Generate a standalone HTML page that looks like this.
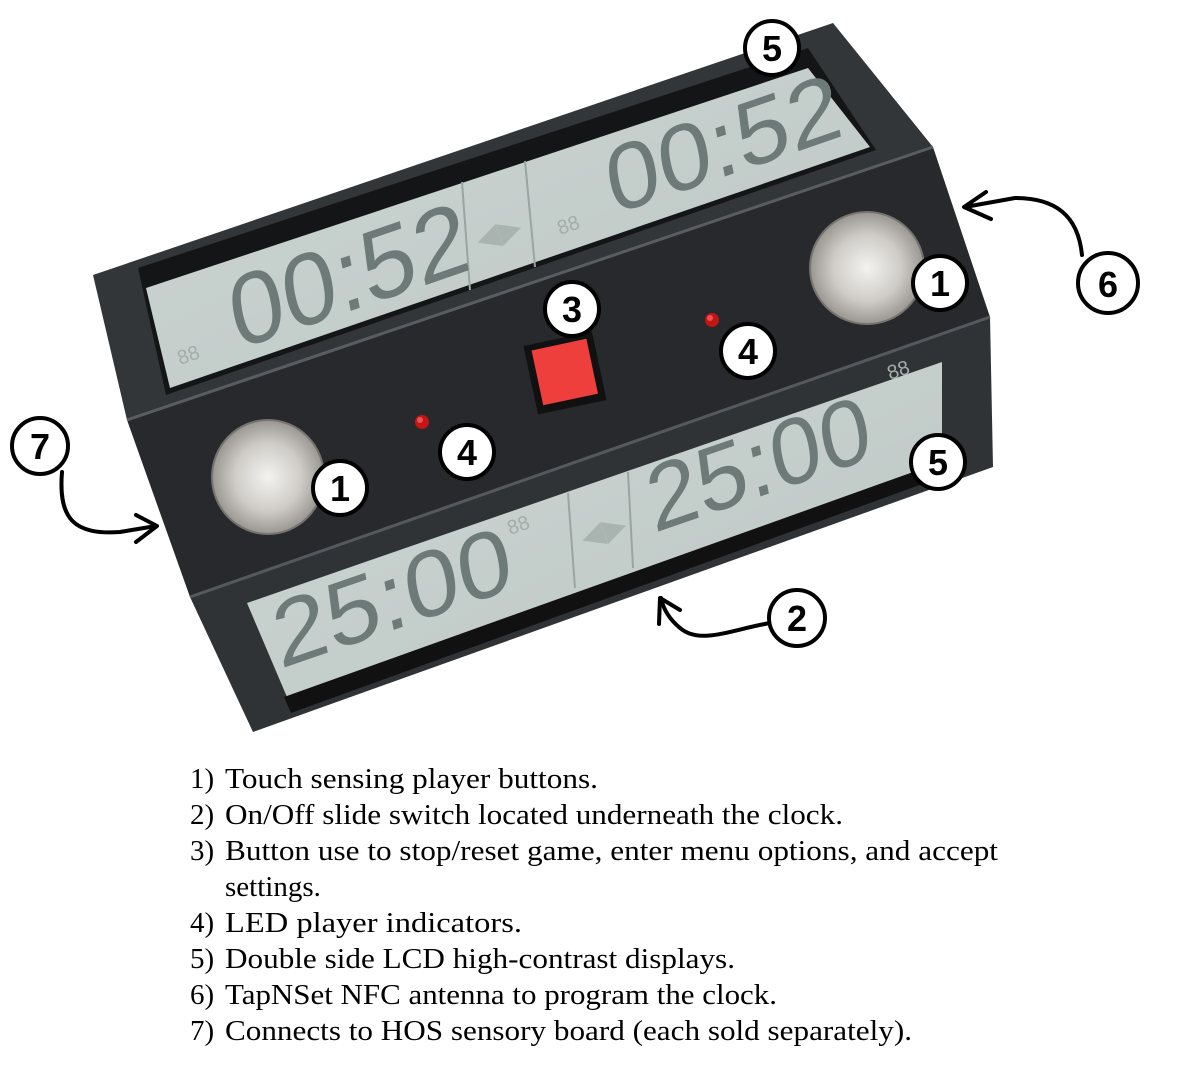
<!DOCTYPE html>
<html><head><meta charset="utf-8"><style>
html,body{margin:0;padding:0;background:#fff;}
svg{display:block;}
</style></head><body>
<svg width="1177" height="1078" viewBox="0 0 1177 1078" xmlns="http://www.w3.org/2000/svg">
<defs>
<radialGradient id="knob" cx="50%" cy="50%" r="55%">
<stop offset="0" stop-color="#f4f3f0"/><stop offset="0.55" stop-color="#cfccc7"/><stop offset="1" stop-color="#8f8b86"/>
</radialGradient>
<linearGradient id="lcd" x1="0" y1="0" x2="1" y2="1">
<stop offset="0" stop-color="#cdd6d3"/><stop offset="1" stop-color="#bcc6c3"/>
</linearGradient>
</defs>
<!-- body faces -->
<polygon points="93,275 833,23 933,147 127,420" fill="#333639"/>
<polygon points="127,420 933,147 990,317 190,597" fill="#27292c"/>
<polygon points="190,597 990,317 993,467 253,732" fill="#303336"/>
<polyline points="127,420 933,147" stroke="#595c60" stroke-width="3" fill="none"/>
<polyline points="190,597 990,317" stroke="#55585c" stroke-width="3" fill="none"/>
<!-- upper LCD -->
<polygon points="138,268 808,48 876,150 166,395" fill="#141516"/>
<polygon points="146,288 808,68 870,147 170,388" fill="url(#lcd)"/>
<line x1="462" y1="182" x2="470" y2="290" stroke="#9aa4a1" stroke-width="2"/>
<line x1="525" y1="161" x2="535" y2="267" stroke="#9aa4a1" stroke-width="2"/>
<!-- lower LCD -->
<polygon points="247,603 942,362 942,463 287,697" fill="url(#lcd)"/>
<polygon points="284,697 944,461 950,474 291,713" fill="#111"/>
<line x1="568" y1="493" x2="575" y2="588" stroke="#9aa4a1" stroke-width="2"/>
<line x1="628" y1="472" x2="633" y2="568" stroke="#9aa4a1" stroke-width="2"/>
<g font-family="Liberation Sans, sans-serif" fill="#6e7a78">
<text x="0" y="0" font-size="100" textLength="250" lengthAdjust="spacingAndGlyphs" transform="translate(237 350) rotate(-19) skewX(-8)">00:52</text>
<text x="0" y="0" font-size="92" textLength="246" lengthAdjust="spacingAndGlyphs" transform="translate(613 215) rotate(-19) skewX(-8)">00:52</text>
<text x="0" y="0" font-size="92" textLength="250" lengthAdjust="spacingAndGlyphs" transform="translate(280 669) rotate(-19) skewX(-8)">25:00</text>
<text x="0" y="0" font-size="92" textLength="234" lengthAdjust="spacingAndGlyphs" transform="translate(654 533) rotate(-19) skewX(-8)">25:00</text>
</g>
<g font-family="Liberation Sans, sans-serif" font-size="20" fill="#a3adaa">
<text x="0" y="0" transform="translate(180 365) rotate(-19)">88</text>
<text x="0" y="0" transform="translate(560 235) rotate(-19)">88</text>
<text x="0" y="0" transform="translate(510 535) rotate(-19)">88</text>
<text x="0" y="0" transform="translate(890 380) rotate(-19)">88</text>
</g>
<g font-family="DejaVu Sans, sans-serif" font-size="30" fill="#a9b3b0">
<text x="0" y="0" transform="translate(480 250) rotate(-19)">◀▶</text>
<text x="0" y="0" transform="translate(585 548) rotate(-19)">◀▶</text>
</g>
<!-- knobs -->
<ellipse cx="268" cy="477" rx="57" ry="58" fill="#77736e"/>
<ellipse cx="268" cy="477" rx="55" ry="56" fill="url(#knob)"/>
<ellipse cx="867" cy="268" rx="58" ry="57" fill="#77736e"/>
<ellipse cx="867" cy="268" rx="56" ry="55" fill="url(#knob)"/>
<!-- red button -->
<g transform="rotate(-12 565 373)">
<rect x="530" y="338" width="70" height="70" fill="#111"/>
<rect x="537" y="344" width="56" height="56" fill="#ef3f3c"/>
</g>
<!-- LEDs -->
<circle cx="422" cy="422" r="7" fill="#c21515"/><circle cx="420" cy="420" r="3" fill="#f05050"/>
<circle cx="712" cy="320" r="7" fill="#c21515"/><circle cx="710" cy="318" r="3" fill="#f05050"/>
<!-- arrows -->
<g fill="none" stroke="#000" stroke-width="4" stroke-linecap="round" stroke-linejoin="round">
<path d="M1082,255 C1078,215 1055,198 1015,198 L965,207"/>
<path d="M986,192 L964,207 L991,219"/>
<path d="M62,472 C58,520 75,535 120,532 L156,526"/>
<path d="M136,515 L157,526 L136,542"/>
<path d="M770,623 C730,630 700,645 680,628 C668,618 663,608 661,598"/>
<path d="M659,624 L660,598 L680,610"/>
</g>
<!-- label circles -->
<g font-family="Liberation Sans, sans-serif" font-weight="bold" font-size="36" text-anchor="middle">
<g stroke="#000" stroke-width="4" fill="#fff">
<circle cx="772" cy="48" r="27"/>
<circle cx="1108" cy="283" r="30"/>
<circle cx="940" cy="283" r="27"/>
<circle cx="572" cy="309" r="27"/>
<circle cx="748" cy="351" r="27"/>
<circle cx="40" cy="446" r="28"/>
<circle cx="467" cy="452" r="27"/>
<circle cx="340" cy="488" r="27"/>
<circle cx="938" cy="462" r="27"/>
<circle cx="797" cy="618" r="28"/>
</g>
<text x="772" y="61">5</text>
<text x="1108" y="297">6</text>
<text x="940" y="296">1</text>
<text x="572" y="322">3</text>
<text x="748" y="364">4</text>
<text x="40" y="459">7</text>
<text x="467" y="465">4</text>
<text x="340" y="501">1</text>
<text x="938" y="475">5</text>
<text x="797" y="631">2</text>
</g>
<!-- legend -->
<g font-family="Liberation Serif, serif" font-size="29" fill="#000">
<text x="190" y="788">1)</text><text x="225" y="788" textLength="373" lengthAdjust="spacingAndGlyphs">Touch sensing player buttons.</text>
<text x="190" y="824">2)</text><text x="225" y="824" textLength="618" lengthAdjust="spacingAndGlyphs">On/Off slide switch located underneath the clock.</text>
<text x="190" y="860">3)</text><text x="225" y="860" textLength="773" lengthAdjust="spacingAndGlyphs">Button use to stop/reset game, enter menu options, and accept</text>
<text x="225" y="896">settings.</text>
<text x="190" y="932">4)</text><text x="225" y="932" textLength="297" lengthAdjust="spacingAndGlyphs">LED player indicators.</text>
<text x="190" y="968">5)</text><text x="225" y="968" textLength="510" lengthAdjust="spacingAndGlyphs">Double side LCD high-contrast displays.</text>
<text x="190" y="1004">6)</text><text x="225" y="1004" textLength="552" lengthAdjust="spacingAndGlyphs">TapNSet NFC antenna to program the clock.</text>
<text x="190" y="1040">7)</text><text x="225" y="1040" textLength="687" lengthAdjust="spacingAndGlyphs">Connects to HOS sensory board (each sold separately).</text>
</g>
</svg>
</body></html>
